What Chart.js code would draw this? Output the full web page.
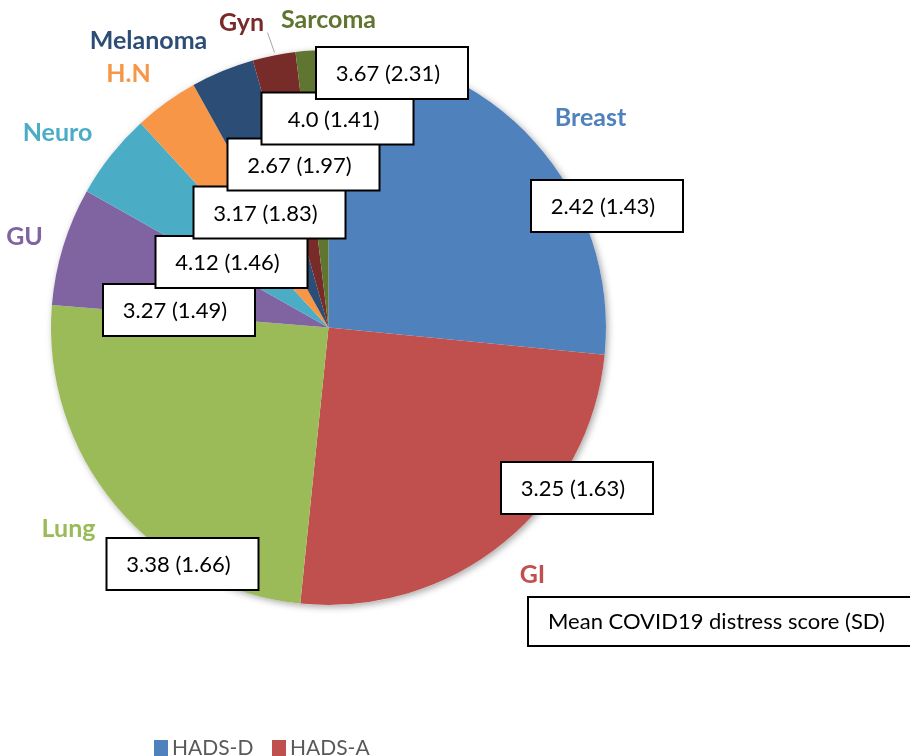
<!DOCTYPE html>
<html>
<head>
<meta charset="utf-8">
<script src="https://cdn.jsdelivr.net/npm/chart.js@4"></script>
<style>
  html, body { margin: 0; padding: 0; background: #fff; }
  #wrap { width: 910px; height: 756px; overflow: hidden; }
</style>
</head>
<body>
<div id="wrap"><canvas id="chart" width="910" height="756"></canvas></div>
<script>
// Cancer type shares with mean COVID19 distress score (SD)

const cancerTypes = ['Breast', 'GI', 'Lung', 'GU', 'Neuro', 'H.N', 'Melanoma', 'Gyn', 'Sarcoma'];
const shares = [26.6, 25.1, 24.7, 6.9, 5.0, 3.75, 3.7, 2.5, 1.9];
const distressMean = ['2.42', '3.25', '3.38', '3.27', '4.12', '3.17', '2.67', '4.0', '3.67'];
const distressSD = ['1.43', '1.63', '1.66', '1.49', '1.46', '1.83', '1.97', '1.41', '2.31'];
const legendLabels = ['HADS-D', 'HADS-A'];

const sliceColors = ['#4F81BD', '#C0504D', '#9BBB59', '#8064A2', '#4BACC6',
                     '#F79646', '#2C4D75', '#772C2A', '#5F7530'];

// label placement, offsets from the pie centre
const nameSpots = [[262, -210], [204, 247], [-260, 201], [-304, -91], [-271, -195],
                   [-200, -254], [-180, -287], [-87, -305], [0, -308]];
const boxSpots = [[278.5, -121.5], [248.5, 160.5], [-146, 236.5], [-149.5, -17.5], [-97, -65.5],
                  [-59, -115], [-25, -163], [9, -209], [63.5, -254.5]];
const BOX_W = 152, BOX_H = 52;

const pieShadow = {
  id: 'pieShadow',
  beforeDatasetsDraw(chart) {
    const arc = chart.getDatasetMeta(0).data[0];
    const c = chart.ctx;
    c.save();
    c.shadowColor = 'rgba(0,0,0,0.35)';
    c.shadowBlur = 7;
    c.shadowOffsetX = 2;
    c.shadowOffsetY = 2;
    c.fillStyle = '#fff';
    c.beginPath();
    c.arc(arc.x, arc.y, arc.outerRadius, 0, Math.PI * 2);
    c.fill();
    c.restore();
  }
};

const labelBoxes = {
  id: 'labelBoxes',
  afterDraw(chart) {
    const arc = chart.getDatasetMeta(0).data[0];
    const cx = arc.x, cy = arc.y;
    const c = chart.ctx;
    c.save();

    // category names
    c.font = 'bold 25px Lato';
    c.textAlign = 'center';
    c.textBaseline = 'middle';
    cancerTypes.forEach((name, i) => {
      c.fillStyle = sliceColors[i];
      c.fillText(name, cx + nameSpots[i][0], cy + nameSpots[i][1]);
    });

    // leader line for Gyn
    c.strokeStyle = '#A6A6A6';
    c.lineWidth = 1;
    c.beginPath();
    c.moveTo(cx - 61, cy - 295);
    c.lineTo(cx - 54, cy - 275);
    c.stroke();

    // value boxes
    c.font = '22px Lato';
    c.lineWidth = 2;
    cancerTypes.forEach((name, i) => {
      const x = cx + boxSpots[i][0] - BOX_W / 2;
      const y = cy + boxSpots[i][1] - BOX_H / 2;
      c.fillStyle = '#fff';
      c.fillRect(x, y, BOX_W, BOX_H);
      c.strokeStyle = '#000';
      c.strokeRect(x, y, BOX_W, BOX_H);
      c.fillStyle = '#000';
      c.fillText(distressMean[i] + ' (' + distressSD[i] + ')', x + BOX_W / 2 - 4, y + BOX_H / 2 + 1);
    });

    // caption box
    c.fillStyle = '#fff';
    c.fillRect(528, 597, 400, 49);
    c.strokeRect(528, 597, 400, 49);
    c.fillStyle = '#000';
    c.textAlign = 'left';
    c.fillText('Mean COVID19 distress score (SD)', 548, 622);

    // legend, runs off the bottom edge
    c.font = '21px Lato';
    c.textBaseline = 'alphabetic';
    let lx = 154;
    legendLabels.forEach((lab, i) => {
      c.fillStyle = sliceColors[i];
      c.fillRect(lx, 740, 14, 16);
      c.fillStyle = '#595959';
      c.fillText(lab, lx + 18, 755);
      lx += 118;
    });
    c.restore();
  }
};

new Chart(document.getElementById('chart'), {
  type: 'pie',
  data: {
    labels: cancerTypes,
    datasets: [{
      data: shares,
      backgroundColor: sliceColors,
      borderWidth: 0
    }]
  },
  options: {
    responsive: false,
    animation: false,
    layout: { padding: { left: 51, right: 304, top: 50, bottom: 151 } },
    plugins: {
      legend: { display: false },
      tooltip: { enabled: false }
    }
  },
  plugins: [pieShadow, labelBoxes]
});
</script>
</body>
</html>
